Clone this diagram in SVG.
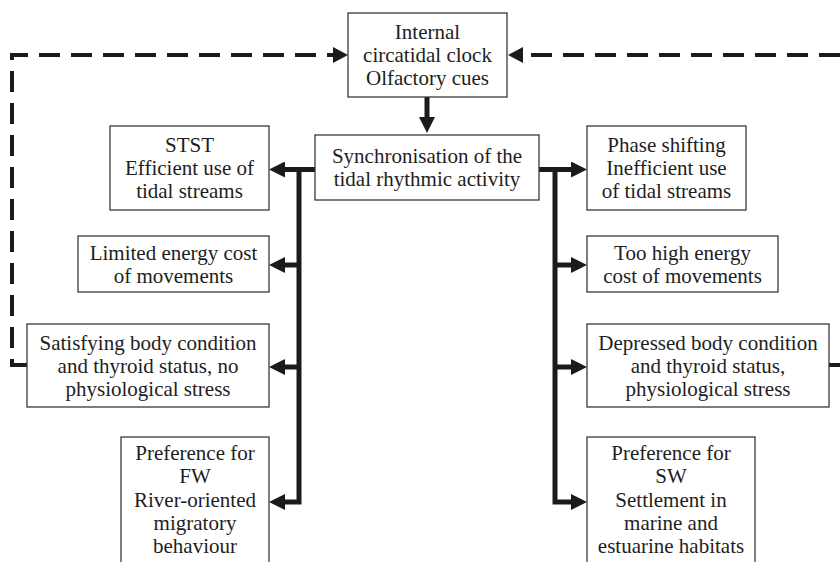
<svg xmlns="http://www.w3.org/2000/svg" width="840" height="562" viewBox="0 0 840 562" font-family="'Liberation Serif', 'Times New Roman', Times, serif">
<style>
.box{fill:#fff;stroke:#3a3a3a;stroke-width:1.3}
.t{font-family:'Liberation Serif','Times New Roman',Times,serif;font-size:21px;fill:#1e1e1e;text-anchor:middle}
.solid{fill:none;stroke:#1e1a1a;stroke-width:5;stroke-linejoin:miter}
.dash{fill:none;stroke:#1e1a1a;stroke-width:4;stroke-dasharray:21 11}
</style>
<defs>
<marker id="ah" markerUnits="userSpaceOnUse" markerWidth="16" markerHeight="16" refX="1" refY="8" orient="auto">
<path d="M0,0 L16,8 L0,16 z" fill="#1e1a1a"/>
</marker>
<marker id="dh" markerUnits="userSpaceOnUse" markerWidth="15" markerHeight="16" refX="1" refY="8" orient="auto">
<path d="M0,0 L15,8 L0,16 z" fill="#1e1a1a"/>
</marker>
</defs>
<rect width="840" height="562" fill="#fff"/>
<g id="connectors">
<path class="dash" d="M27,365 H12 V55 H334" marker-end="url(#dh)"/>
<path class="dash" d="M840,55 H522" marker-end="url(#dh)"/>
<path class="dash" d="M829,365 H840"/>
<path class="solid" d="M427,97 V118" marker-end="url(#ah)"/>
<path class="solid" d="M315,169.5 H284" marker-end="url(#ah)"/>
<path class="solid" d="M299,167 V502 H284" marker-end="url(#ah)"/>
<path class="solid" d="M299,265 H284" marker-end="url(#ah)"/>
<path class="solid" d="M299,367 H284" marker-end="url(#ah)"/>
<path class="solid" d="M539,169.5 H572" marker-end="url(#ah)"/>
<path class="solid" d="M555,167 V502 H572" marker-end="url(#ah)"/>
<path class="solid" d="M555,265 H572" marker-end="url(#ah)"/>
<path class="solid" d="M555,367 H572" marker-end="url(#ah)"/>
</g>
<g id="clock">
<rect class="box" x="348" y="13" width="159" height="84"/>
<text class="t" x="427.5" y="39">Internal</text>
<text class="t" x="427.5" y="62">circatidal clock</text>
<text class="t" x="427.5" y="85">Olfactory cues</text>
</g>
<g id="sync">
<rect class="box" x="315" y="135" width="224" height="65"/>
<text class="t" x="427" y="163">Synchronisation of the</text>
<text class="t" x="427" y="186">tidal rhythmic activity</text>
</g>
<g id="stst">
<rect class="box" x="110" y="126" width="159" height="84"/>
<text class="t" x="189.5" y="152">STST</text>
<text class="t" x="189.5" y="175">Efficient use of</text>
<text class="t" x="189.5" y="198">tidal streams</text>
</g>
<g id="limited">
<rect class="box" x="78" y="236" width="191" height="56"/>
<text class="t" x="173.5" y="259.5">Limited energy cost</text>
<text class="t" x="173.5" y="282.5">of movements</text>
</g>
<g id="satisfying">
<rect class="box" x="27" y="324" width="242" height="83"/>
<text class="t" x="148" y="349.5">Satisfying body condition</text>
<text class="t" x="148" y="372.5">and thyroid status, no</text>
<text class="t" x="148" y="395.5">physiological stress</text>
</g>
<g id="fw">
<rect class="box" x="121" y="437" width="148" height="135"/>
<text class="t" x="195" y="460">Preference for</text>
<text class="t" x="195" y="483.3">FW</text>
<text class="t" x="195" y="506.6">River-oriented</text>
<text class="t" x="195" y="530">migratory</text>
<text class="t" x="195" y="553">behaviour</text>
</g>
<g id="phase">
<rect class="box" x="587" y="126" width="159" height="84"/>
<text class="t" x="666.5" y="152">Phase shifting</text>
<text class="t" x="666.5" y="175">Inefficient use</text>
<text class="t" x="666.5" y="198">of tidal streams</text>
</g>
<g id="toohigh">
<rect class="box" x="587" y="236" width="191" height="56"/>
<text class="t" x="682.5" y="259.5">Too high energy</text>
<text class="t" x="682.5" y="282.5">cost of movements</text>
</g>
<g id="depressed">
<rect class="box" x="587" y="324" width="242" height="83"/>
<text class="t" x="708" y="349.5">Depressed body condition</text>
<text class="t" x="708" y="372.5">and thyroid status,</text>
<text class="t" x="708" y="395.5">physiological stress</text>
</g>
<g id="sw">
<rect class="box" x="587" y="437" width="168" height="135"/>
<text class="t" x="671" y="460">Preference for</text>
<text class="t" x="671" y="483.3">SW</text>
<text class="t" x="671" y="506.6">Settlement in</text>
<text class="t" x="671" y="530">marine and</text>
<text class="t" x="671" y="553">estuarine habitats</text>
</g>
</svg>
